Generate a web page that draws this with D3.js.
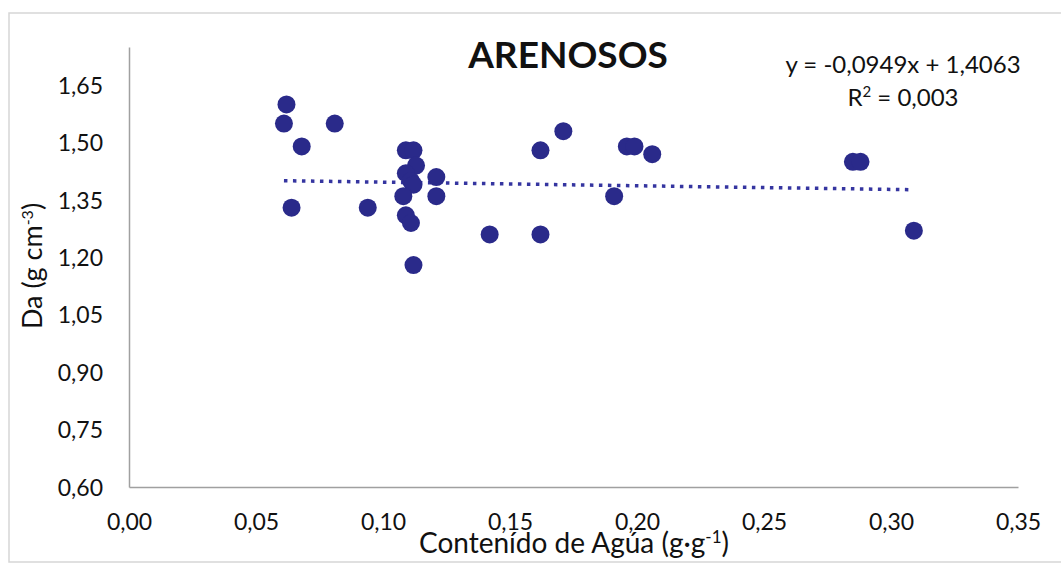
<!DOCTYPE html>
<html>
<head>
<meta charset="utf-8">
<script src="https://cdn.jsdelivr.net/npm/d3@7"></script>
<style>
  html, body { margin: 0; padding: 0; background: #fff; }
  svg text { font-family: Lato, "Open Sans", sans-serif; fill: #111; }
</style>
</head>
<body>
<svg id="chart" width="1061" height="564"></svg>
<script>
// ---- data ----
const waterContent = [0.062, 0.061, 0.068, 0.081, 0.064, 0.094,
  0.109, 0.112, 0.113, 0.109, 0.111, 0.112, 0.108, 0.121, 0.121, 0.109, 0.111, 0.112,
  0.142, 0.162, 0.171, 0.162, 0.191, 0.196, 0.199, 0.206, 0.285, 0.288, 0.309];
const bulkDensity = [1.60, 1.55, 1.49, 1.55, 1.33, 1.33,
  1.48, 1.48, 1.44, 1.42, 1.40, 1.39, 1.36, 1.41, 1.36, 1.31, 1.29, 1.18,
  1.26, 1.48, 1.53, 1.26, 1.36, 1.49, 1.49, 1.47, 1.45, 1.45, 1.27];
const xTicks = [0.00, 0.05, 0.10, 0.15, 0.20, 0.25, 0.30, 0.35];
const yTicks = [0.60, 0.75, 0.90, 1.05, 1.20, 1.35, 1.50, 1.65];
const trendSlope = -0.0949;
const trendIntercept = 1.4063;
const titleText = "ARENOSOS";
const equationText = "y = -0,0949x + 1,4063";
const r2Text = "0,003";

// ---- layout ----
const svg = d3.select("#chart");
const x = d3.scaleLinear().domain([0, 0.35]).range([129, 1018]);
const y = d3.scaleLinear().domain([0.60, 1.75]).range([487, 47]);
const fmt = d => d3.format(".2f")(d).replace(".", ",");

svg.append("rect").attr("width", 1061).attr("height", 564).attr("fill", "#fff");
// outer frame
svg.append("path").attr("d", "M1061,13 H9 V562 H1061")
  .attr("fill", "none").attr("stroke", "#d6d6d6").attr("stroke-width", 1.5);

// axes
const xAxis = d3.axisBottom(x).tickValues(xTicks).tickFormat(fmt).tickSize(0).tickPadding(0);
const gx = svg.append("g").attr("transform", "translate(0,487)").call(xAxis);
gx.select(".domain").attr("stroke", "#a0a0a0").attr("stroke-width", 1.5);
gx.selectAll("text").attr("font-size", 23).attr("dy", null).attr("y", 43)
  .attr("font-family", "Lato").attr("fill", "#111");

const yAxis = d3.axisLeft(y).tickValues(yTicks).tickFormat(fmt).tickSize(0).tickPadding(0);
const gy = svg.append("g").attr("transform", "translate(129,0)").call(yAxis);
gy.select(".domain").attr("stroke", "#a0a0a0").attr("stroke-width", 1.5);
gy.selectAll("text").attr("font-size", 23).attr("dy", "0.35em").attr("x", -26)
  .attr("font-family", "Lato").attr("fill", "#111");

// trend line
const xs = d3.extent(waterContent);
svg.append("line")
  .attr("x1", x(xs[0])).attr("y1", y(trendSlope * xs[0] + trendIntercept))
  .attr("x2", x(xs[1])).attr("y2", y(trendSlope * xs[1] + trendIntercept))
  .attr("stroke", "#3535a0").attr("stroke-width", 3.5)
  .attr("stroke-dasharray", "3.5 5.5");

// points
svg.append("g").selectAll("circle")
  .data(waterContent.map((d, i) => [d, bulkDensity[i]]))
  .join("circle")
  .attr("cx", d => x(d[0])).attr("cy", d => y(d[1])).attr("r", 9)
  .attr("fill", "#2a2a8a");

// title
svg.append("text").attr("x", 568).attr("y", 68).attr("text-anchor", "middle")
  .attr("font-size", 37).attr("font-weight", 700).text(titleText);

// equation
svg.append("text").attr("x", 903).attr("y", 73).attr("text-anchor", "middle")
  .attr("font-size", 24).text(equationText);
const r2 = svg.append("text").attr("x", 903).attr("y", 106).attr("text-anchor", "middle")
  .attr("font-size", 24);
r2.append("tspan").text("R");
r2.append("tspan").attr("font-size", 15).attr("baseline-shift", "super").text("2");
r2.append("tspan").text(" = " + r2Text);

// x axis title
const xt = svg.append("text").attr("x", 574).attr("y", 553).attr("text-anchor", "middle")
  .attr("font-size", 28);
xt.append("tspan").text("Contenído de Agúa (g·g");
xt.append("tspan").attr("font-size", 17).attr("baseline-shift", "super").text("-1");
xt.append("tspan").text(")");

// y axis title
const yt = svg.append("text").attr("transform", "translate(42,266) rotate(-90)")
  .attr("text-anchor", "middle").attr("font-size", 27);
yt.append("tspan").text("Da (g cm");
yt.append("tspan").attr("font-size", 16).attr("baseline-shift", "super").text("-3");
yt.append("tspan").text(")");
</script>
</body>
</html>
